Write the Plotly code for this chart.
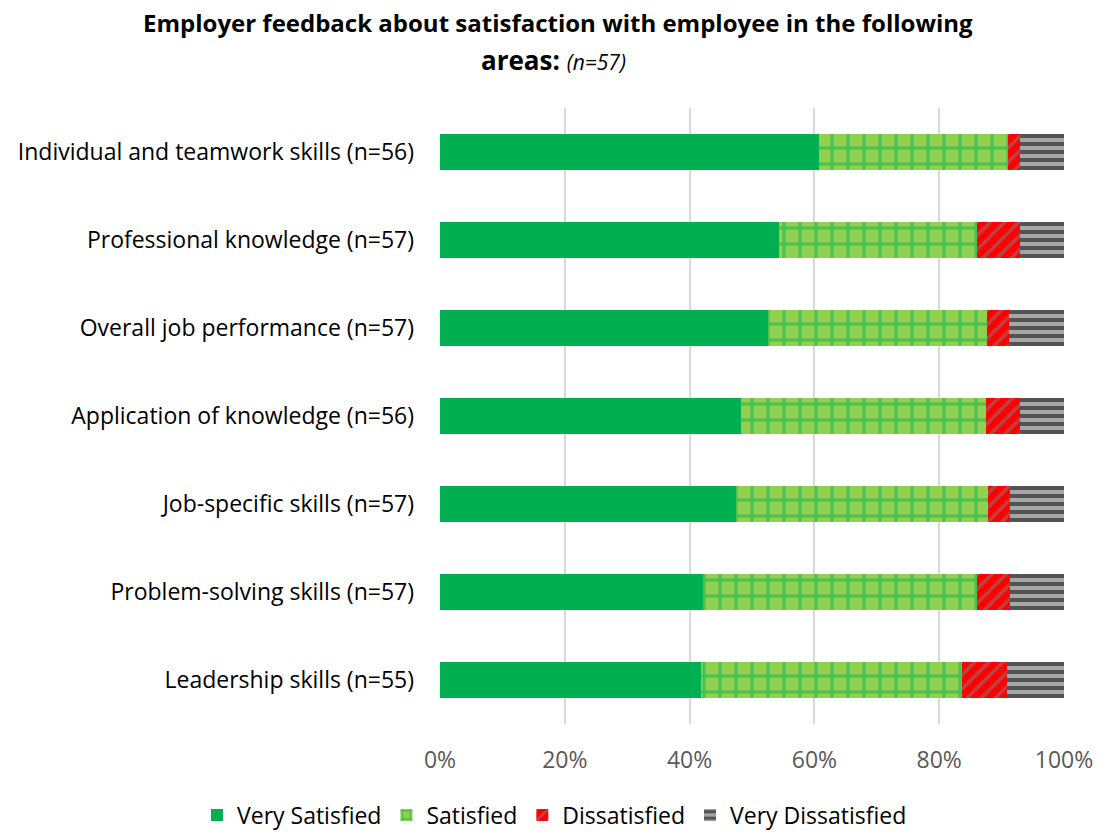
import plotly.graph_objects as go

categories = [
    "Individual and teamwork skills (n=56)",
    "Professional knowledge (n=57)",
    "Overall job performance (n=57)",
    "Application of knowledge (n=56)",
    "Job-specific skills (n=57)",
    "Problem-solving skills (n=57)",
    "Leadership skills (n=55)",
]
very_satisfied = [60.7, 54.4, 52.6, 48.2, 47.4, 42.1, 41.8]
satisfied = [30.4, 31.6, 35.1, 39.3, 40.4, 43.9, 41.8]
dissatisfied = [1.8, 7.0, 3.5, 5.4, 3.5, 5.3, 7.3]
very_dissatisfied = [7.1, 7.0, 8.8, 7.1, 8.8, 8.8, 9.1]
tick_vals = [0, 20, 40, 60, 80, 100]
tick_text = ["0%", "20%", "40%", "60%", "80%", "100%"]

FONT = "Open Sans"
FS = 23

fig = go.Figure()
fig.add_trace(go.Bar(
    y=categories, x=very_satisfied, name="Very Satisfied", orientation="h",
    marker=dict(color="#00B050", line=dict(width=0)),
))
fig.add_trace(go.Bar(
    y=categories, x=satisfied, name="Satisfied", orientation="h",
    marker=dict(color="#92D050", line=dict(width=0),
                pattern=dict(shape="+", fgcolor="#00B050", bgcolor="#92D050",
                             size=16, solidity=0.34, fillmode="overlay")),
))
fig.add_trace(go.Bar(
    y=categories, x=dissatisfied, name="Dissatisfied", orientation="h",
    marker=dict(color="#FF0000", line=dict(width=0),
                pattern=dict(shape="/", fgcolor="#7F7F7F", bgcolor="#FF0000",
                             size=10, solidity=0.35, fillmode="overlay")),
))
fig.add_trace(go.Bar(
    y=categories, x=very_dissatisfied, name="Very Dissatisfied", orientation="h",
    marker=dict(color="#A6A6A6", line=dict(width=0),
                pattern=dict(shape="-", fgcolor="#000000", bgcolor="#A6A6A6",
                             size=8, solidity=0.5, fillmode="overlay")),
))

PLOT_L, PLOT_W, PLOT_B, PLOT_H = 440, 624, 724, 616

fig.update_layout(
    barmode="stack",
    bargap=0.6,
    width=1110, height=835,
    paper_bgcolor="white", plot_bgcolor="white",
    font=dict(family=FONT, size=FS, color="#000000"),
    margin=dict(l=440, r=46, t=108, b=111, autoexpand=False),
    xaxis=dict(
        range=[0, 100], tickvals=tick_vals, ticktext=tick_text,
        showgrid=True, gridcolor="#D9D9D9", gridwidth=2,
        zeroline=False, showline=False,
        tickfont=dict(family=FONT, size=FS, color="#595959"),
        ticks="", ticklabelstandoff=20,
    ),
    yaxis=dict(
        autorange="reversed", showgrid=False, zeroline=False,
        tickfont=dict(family=FONT, size=FS, color="#000000"),
        ticks="", ticklabelstandoff=25,
    ),
    legend=dict(
        orientation="h",
        x=(197 - PLOT_L) / PLOT_W, xref="paper", xanchor="left",
        y=(PLOT_B - 815) / PLOT_H, yref="paper", yanchor="middle",
        font=dict(family=FONT, size=FS, color="#000000"),
        itemwidth=30, traceorder="normal",
    ),
)

# Title as two centered lines positioned in the page
fig.add_annotation(
    text="<b>Employer feedback about satisfaction with employee in the following</b>",
    xref="paper", yref="paper", x=(558 - PLOT_L) / PLOT_W, y=1 + (108 - 22) / PLOT_H,
    showarrow=False, xanchor="center", yanchor="middle",
    font=dict(family=FONT, size=24, color="#000000"),
)
fig.add_annotation(
    text="<b>areas:</b> <i><span style='font-size:21px'>(n=57)</span></i>",
    xref="paper", yref="paper", x=(553 - PLOT_L) / PLOT_W, y=1 + (108 - 60) / PLOT_H,
    showarrow=False, xanchor="center", yanchor="middle",
    font=dict(family=FONT, size=26, color="#000000"),
)

fig.write_html("out.html")
